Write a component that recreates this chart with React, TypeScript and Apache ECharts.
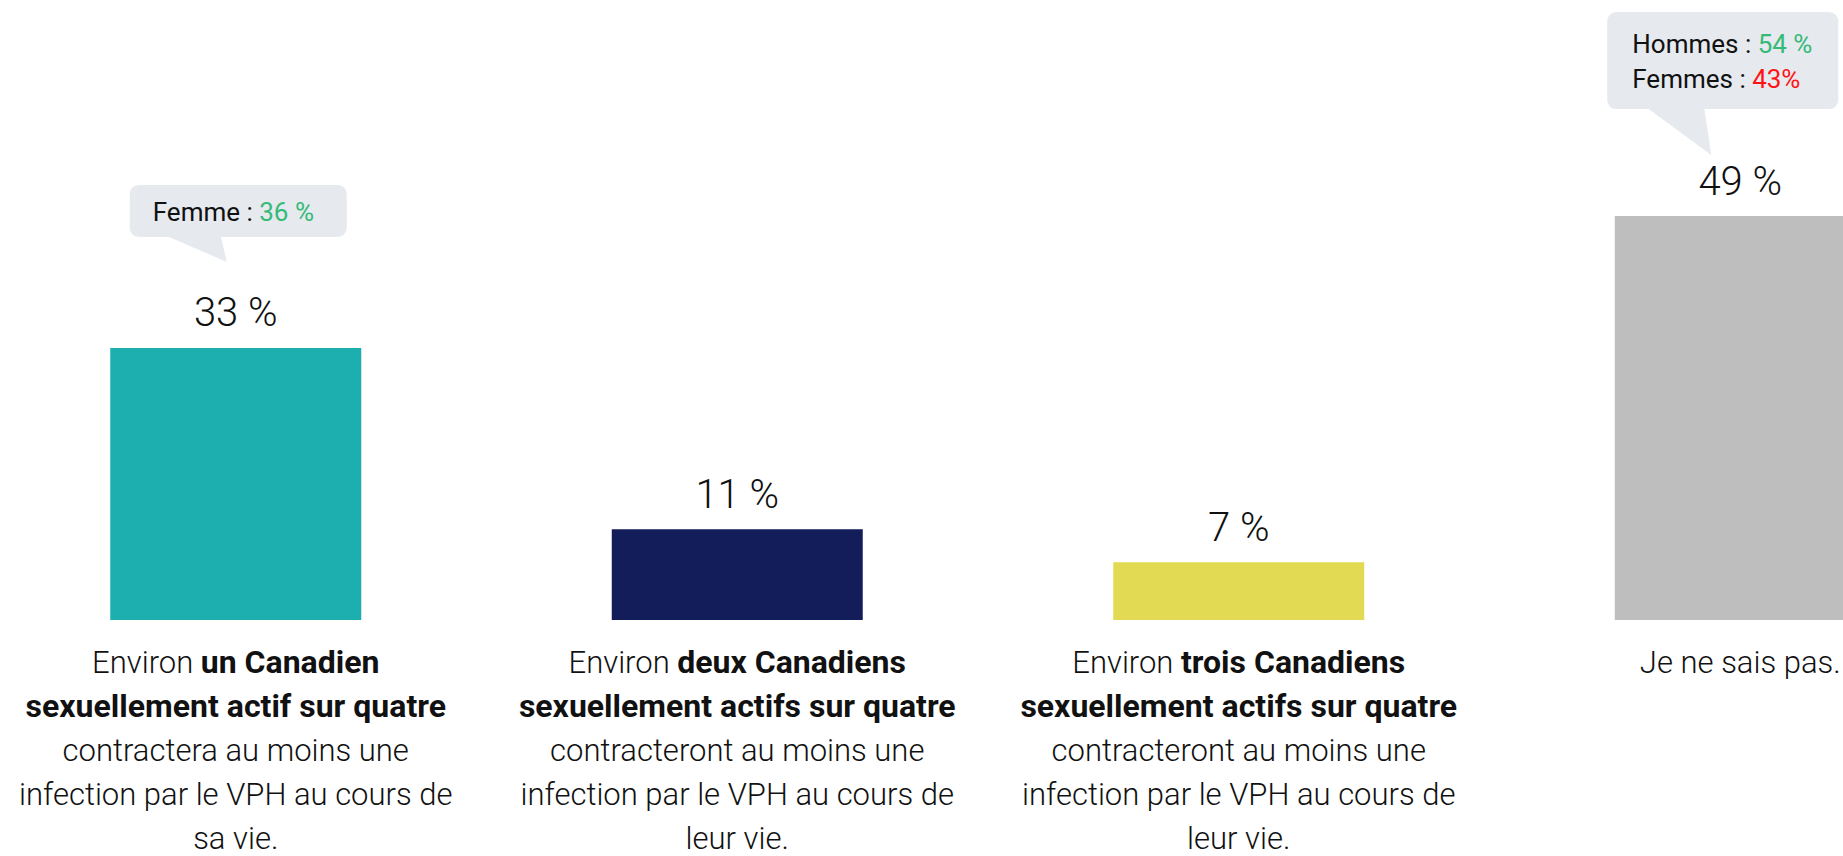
import React, { useEffect, useRef } from "react";
import * as echarts from "echarts";

const categoryLabels = [
  "{n|Environ }{b|un Canadien}\n{b|sexuellement actif sur quatre}\n{n|contractera au moins une}\n{n|infection par le VPH au cours de}\n{n|sa vie.}",
  "{n|Environ }{b|deux Canadiens}\n{b|sexuellement actifs sur quatre}\n{n|contracteront au moins une}\n{n|infection par le VPH au cours de}\n{n|leur vie.}",
  "{n|Environ }{b|trois Canadiens}\n{b|sexuellement actifs sur quatre}\n{n|contracteront au moins une}\n{n|infection par le VPH au cours de}\n{n|leur vie.}",
  "{n|Je ne sais pas.}",
];
const values = [33, 11, 7, 49];
const barColors = ["#1DAFAF", "#131D5A", "#E2DA52", "#BEBEBE"];

const noteIndex = [0, 3];
const noteKeys = [["Femme : "], ["Hommes : ", "Femmes : "]];
const noteValues = [["36 %"], ["54 %", "43%"]];
const noteColors = [["#35BA78"], ["#35BA78", "#FF1414"]];

const FONT = "Roboto, 'Noto Sans', sans-serif";

export default function App() {
  const ref = useRef<HTMLDivElement>(null);
  useEffect(() => {
    if (!ref.current) return;
    const chart = echarts.init(ref.current, null, { renderer: "svg" });
    chart.setOption({
      animation: false,
      grid: { left: -15, width: 2006, top: 43, bottom: 236, outerBoundsMode: "none", containLabel: false },
      xAxis: {
        type: "category",
        data: categoryLabels,
        axisLine: { show: false },
        axisTick: { show: false },
        axisLabel: {
          interval: 0,
          margin: 20,
          color: "#111",
          fontFamily: FONT,
          fontSize: 31,
          lineHeight: 44,
          hideOverlap: false,
          rich: {
            n: { fontFamily: FONT, fontSize: 31, lineHeight: 44, color: "#111", fontWeight: 300 },
            b: { fontFamily: FONT, fontSize: 32, lineHeight: 44, color: "#111", fontWeight: "bold" },
          },
        },
      },
      yAxis: { type: "value", min: 0, max: 70, show: false, splitLine: { show: false } },
      series: [
        {
          type: "bar",
          barWidth: 251,
          data: values.map((v, i) => ({ value: v, itemStyle: { color: barColors[i] } })),
          label: {
            show: true,
            position: "top",
            distance: 15,
            formatter: "{c} %",
            fontFamily: FONT,
            fontSize: 40,
            fontWeight: 300,
            color: "#111",
          },
        },
      ],
    });

    const graphics: any[] = [];
    noteIndex.forEach((idx, k) => {
      const [cx, cy] = chart.convertToPixel({ gridIndex: 0 }, [idx, values[idx]]) as number[];
      const two = noteKeys[k].length > 1;
      const rect = two
        ? { x: cx - 133, y: cy - 204, width: 231, height: 97 }
        : { x: cx - 106, y: cy - 163, width: 217, height: 52 };
      const tail = two
        ? [[cx - 93, cy - 108], [cx - 36, cy - 108], [cx - 29, cy - 61]]
        : [[cx - 69, cy - 112], [cx - 15, cy - 112], [cx - 9, cy - 86]];
      graphics.push({
        type: "rect",
        shape: { ...rect, r: 9 },
        style: { fill: "#E6E9EE" },
        silent: true,
      });
      graphics.push({
        type: "polygon",
        shape: { points: tail },
        style: { fill: "#E6E9EE" },
        silent: true,
      });
      const rich: any = {
        k: { fontFamily: FONT, fontSize: 26, lineHeight: 35, fill: "#111", fontWeight: 400 },
      };
      const lines = noteKeys[k].map((key, j) => {
        rich["v" + j] = {
          fontFamily: FONT,
          fontSize: 26,
          lineHeight: 35,
          fill: noteColors[k][j],
          fontWeight: 400,
        };
        return `{k|${key}}{v${j}|${noteValues[k][j]}}`;
      });
      graphics.push({
        type: "text",
        x: two ? cx - 108 : cx - 83,
        y: rect.y + rect.height / 2 + 1,
        style: {
          text: lines.join("\n"),
          rich,
          align: "left",
          verticalAlign: "middle",
          fontFamily: FONT,
          fontSize: 26,
          fill: "#111",
        },
        silent: true,
      });
    });
    chart.setOption({ graphic: graphics });

    return () => chart.dispose();
  }, []);
  return (
    <div
      ref={ref}
      style={{ position: "fixed", left: 0, top: 0, width: 1843, height: 856, background: "#fff" }}
    />
  );
}
